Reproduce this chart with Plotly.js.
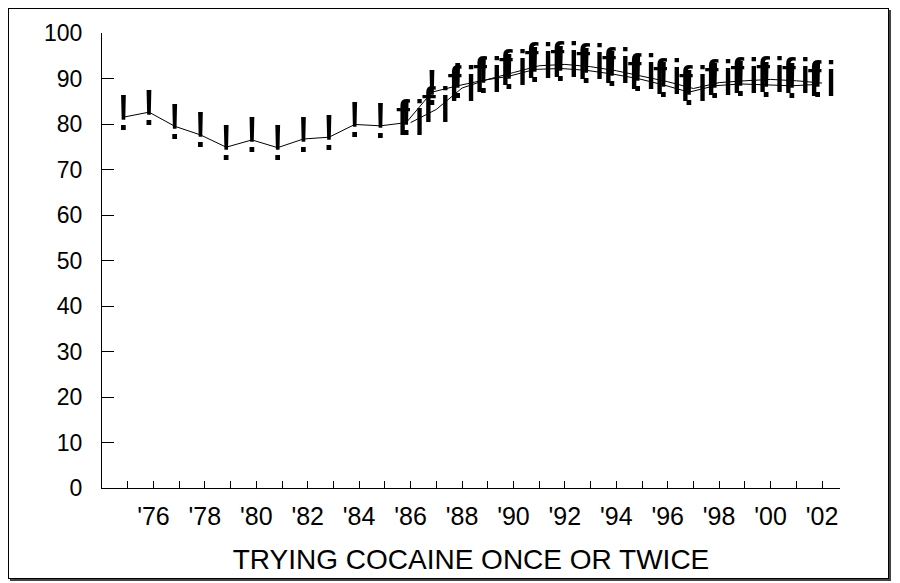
<!DOCTYPE html>
<html>
<head>
<meta charset="utf-8">
<script src="https://cdn.plot.ly/plotly-3.0.1.min.js"></script>
<style>
  html, body { margin: 0; padding: 0; background: #fff; }
  #wrap { position: relative; width: 900px; height: 583px; }
  #chart { position: absolute; left: 0; top: 0; width: 900px; height: 583px; }
  #frame { position: absolute; left: 8px; top: 8px; width: 879px; height: 569px;
           border: 1px solid #000; box-shadow: 2px 2px 0 #444; pointer-events: none; }
</style>
</head>
<body>
<div id="wrap">
  <div id="chart"></div>
  <div id="frame"></div>
</div>
<script>
// Years (every tick) and even-year labels
const tickYears = [1975,1976,1977,1978,1979,1980,1981,1982,1983,1984,1985,1986,1987,1988,1989,1990,1991,1992,1993,1994,1995,1996,1997,1998,1999,2000,2001,2002];
const tickLabels = ["","'76","","'78","","'80","","'82","","'84","","'86","","'88","","'90","","'92","","'94","","'96","","'98","","'00","","'02"];

// Series 1 ("!" markers), 1975-2002
const years1 = [1975,1976,1977,1978,1979,1980,1981,1982,1983,1984,1985,1986,1987,1988,1989,1990,1991,1992,1993,1994,1995,1996,1997,1998,1999,2000,2001,2002];
const values1 = [81.5,82.6,79.5,77.6,74.9,76.5,74.8,76.7,77.1,79.9,79.6,80.3,87.0,88.4,89.6,90.5,92.0,92.2,91.8,91.0,90.0,88.6,87.0,88.4,88.8,88.6,88.4,88.7];

// Series 2 ("fi" markers), 1986-2002
const years2 = [1986,1987,1988,1989,1990,1991,1992,1993,1994,1995,1996,1997,1998,1999,2000,2001,2002];
const values2 = [80.3,83.2,87.9,89.8,91.3,92.8,93.1,92.6,91.7,90.5,89.3,87.8,89.1,89.5,89.8,89.5,89.0];

const marker1 = "!";
const marker2 = "f\u200Ai";

const glyphFont = { family: "Liberation Sans Narrow, Arial Narrow, Liberation Sans, Arial, sans-serif", size: 50, color: "#000" };

const traces = [
  {
    x: years1, y: values1, xaxis: "x2", yaxis: "y",
    mode: "lines+text", text: years1.map(() => marker1),
    textposition: "middle center", textfont: glyphFont,
    line: { color: "#000", width: 1 }, hoverinfo: "skip", showlegend: false
  },
  {
    x: years2, y: values2, xaxis: "x", yaxis: "y",
    mode: "lines+text", text: years2.map(() => marker2),
    textposition: "middle center", textfont: glyphFont,
    line: { color: "#000", width: 1 }, hoverinfo: "skip", showlegend: false
  }
];

const axisFont = { family: "Liberation Sans, Arial, sans-serif", color: "#000" };

const layout = {
  width: 900, height: 583,
  margin: { l: 102, r: 60, t: 33, b: 95, pad: 0 },
  paper_bgcolor: "#fff", plot_bgcolor: "#fff",
  font: axisFont,
  xaxis: {
    range: [1974, 2002.7],
    tickmode: "array", tickvals: tickYears, ticktext: tickLabels,
    ticks: "inside", ticklen: 7, tickcolor: "#000", tickwidth: 1,
    showline: true, linecolor: "#000", linewidth: 1,
    showgrid: false, zeroline: false,
    tickfont: { family: axisFont.family, size: 25, color: "#000" },
    ticklabelstandoff: 6,
    title: { text: "TRYING COCAINE ONCE OR TWICE", font: { family: axisFont.family, size: 28, color: "#000" }, standoff: 20 }
  },
  xaxis2: {
    range: [1974.17, 2002.87], overlaying: "x", visible: false,
    showgrid: false, zeroline: false
  },
  yaxis: {
    range: [0, 100], dtick: 10, tick0: 0,
    ticks: "inside", ticklen: 12, tickcolor: "#000", tickwidth: 1,
    showline: true, linecolor: "#000", linewidth: 1,
    showgrid: false, zeroline: false,
    tickfont: { family: axisFont.family, size: 23, color: "#000" },
    ticklabelstandoff: 14
  }
};

Plotly.newPlot("chart", traces, layout, { staticPlot: true, displayModeBar: false });
</script>
</body>
</html>
